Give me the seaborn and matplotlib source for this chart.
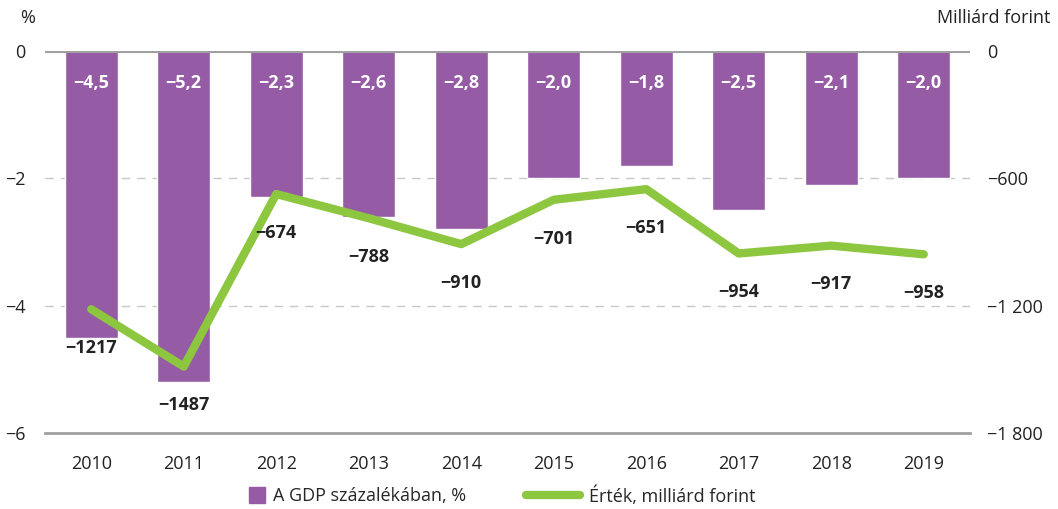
import numpy as np
import pandas as pd
import matplotlib.pyplot as plt
import seaborn as sns
from matplotlib.lines import Line2D

# data
years = ['2010', '2011', '2012', '2013', '2014', '2015', '2016', '2017', '2018', '2019']
gdp_pct = [-4.5, -5.2, -2.3, -2.6, -2.8, -2.0, -1.8, -2.5, -2.1, -2.0]
value_bn = [-1217, -1487, -674, -788, -910, -701, -651, -954, -917, -958]

left_ticks = [0, -2, -4, -6]
right_ticks = [0, -600, -1200, -1800]

purple = '#955ba5'
green = '#8dc63f'
grey = '#a0a0a0'

sns.set_style('white')
plt.rcParams['font.family'] = ['Open Sans', 'DejaVu Sans']

df = pd.DataFrame({'year': years, 'pct': gdp_pct})

fig = plt.figure(figsize=(10.58, 5.09), dpi=100)
ax = fig.add_axes([45 / 1058, 1 - 433 / 509, 925 / 1058, 382 / 509])

sns.barplot(data=df, x='year', y='pct', color=purple, width=0.57,
            saturation=1, ax=ax)
ax.set_ylim(-6, 0)
ax.set_xlim(-0.5, 9.5)
ax.set_xlabel('')
ax.set_ylabel('')

# white labels inside the bars
for i, v in enumerate(gdp_pct):
    ax.text(i, -0.5, f'{v:.1f}'.replace('-', '\u2212').replace('.', ','),
            ha='center', va='center', color='white', fontsize=13,
            fontweight='bold')

for y in [-2, -4]:
    ax.axhline(y, color='#c8c8c8', lw=1, ls=(0, (6, 5)), zorder=0)
ax.axhline(0, color=grey, lw=3, zorder=3)

for s in ['left', 'right', 'top']:
    ax.spines[s].set_visible(False)
ax.spines['bottom'].set_color(grey)
ax.spines['bottom'].set_linewidth(2)

ax.set_yticks(left_ticks)
ax.set_yticklabels([str(t).replace('-', '\u2212') for t in left_ticks])
ax.tick_params(axis='y', length=0, labelsize=13, colors='#222222', pad=14)
ax.set_xticks(np.arange(-0.5, 10, 1), minor=True)
ax.tick_params(axis='x', which='major', length=0, labelsize=13,
               colors='#222222', pad=16)
ax.tick_params(axis='x', which='minor', length=9, width=2, color=grey,
               direction='out')

ax2 = ax.twinx()
sns.lineplot(x=np.arange(len(value_bn)), y=value_bn, color=green, lw=6,
             solid_capstyle='round', solid_joinstyle='round', ax=ax2)
ax2.set_ylim(-1800, 0)
ax2.set_yticks(right_ticks)
ax2.set_yticklabels([f'{t:,}'.replace(',', ' ').replace('-', '\u2212')
                     for t in right_ticks])
ax2.tick_params(axis='y', length=0, labelsize=13, colors='#222222', pad=12)
for s in ax2.spines.values():
    s.set_visible(False)

for i, v in enumerate(value_bn):
    ax2.annotate(f'{v}'.replace('-', '\u2212'), (i, v), xytext=(0, -28),
                 textcoords='offset points', ha='center', va='center',
                 fontsize=13, fontweight='bold', color='#222222')

fig.text(20 / 1058, 1 - 18 / 509, '%', fontsize=13, color='#222222',
         ha='left', va='center')
fig.text(1050 / 1058, 1 - 18 / 509, 'Milliárd forint', fontsize=13,
         color='#222222', ha='right', va='center')

# legend, two parts so each handle keeps its own width
leg1 = fig.legend(handles=[Line2D([0], [0], ls='none', marker='s', markersize=12,
                                  color=purple, label='A GDP százalékában, %')],
                  loc='center left', bbox_to_anchor=(248 / 1058, 1 - 496 / 509),
                  frameon=False, fontsize=13, handlelength=1.0,
                  handletextpad=0.4, borderpad=0, borderaxespad=0)
fig.legend(handles=[Line2D([0], [0], color=green, lw=6, solid_capstyle='round',
                           label='Érték, milliárd forint')],
           loc='center left', bbox_to_anchor=(526 / 1058, 1 - 496 / 509),
           frameon=False, fontsize=13, handlelength=3.0,
           handletextpad=0.5, borderpad=0, borderaxespad=0)

fig.savefig('out.png', dpi=100)
